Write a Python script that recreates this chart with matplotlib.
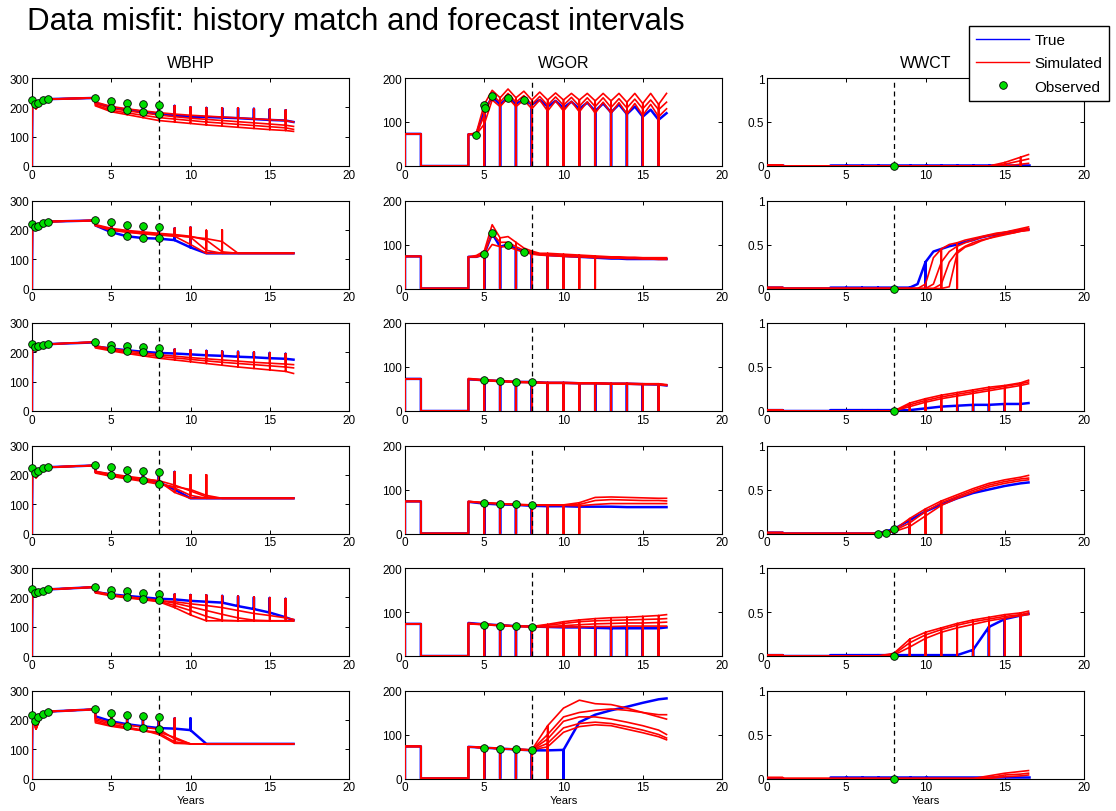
import matplotlib
matplotlib.use("Agg")
import matplotlib.pyplot as plt
from matplotlib.lines import Line2D

plt.rcParams['font.family'] = ['Liberation Sans', 'DejaVu Sans']

# ---------------- data ----------------
COLUMNS = ["WBHP", "WGOR", "WWCT"]
YLIMS = [(0, 300), (0, 200), (0, 1)]
YTICKS = [[0, 100, 200, 300], [0, 100, 200], [0, 0.5, 1]]
YTICKLABELS = [["0", "100", "200", "300"], ["0", "100", "200"], ["0", "0.5", "1"]]
HISTORY_END = 8

T_YEAR = [4, 5, 6, 7, 8, 9, 10, 11, 12, 13, 14, 15, 16, 16.5]
T_HALF = [4, 4.5, 5, 5.5, 6, 6.5, 7, 7.5, 8, 8.5, 9, 9.5, 10, 10.5, 11, 11.5,
          12, 12.5, 13, 13.5, 14, 14.5, 15, 15.5, 16, 16.5]

# shut-in years per well (row)
SHUT_TRUE = [
    [5, 6, 7, 8, 9, 10, 11, 12, 13, 14, 15, 16],
    [5, 6, 7, 8, 9, 10],
    [5, 6, 7, 8, 9, 10, 11, 12, 13, 14, 15, 16],
    [5, 6, 7, 8, 9],
    [5, 6, 7, 8, 9, 10, 11, 12, 13, 14, 15, 16],
    [5, 6, 7, 8, 9, 10],
]
SHUT_SIM = [
    [5, 6, 7, 8, 9, 10, 11, 12, 13, 14, 15, 16],
    [5, 6, 7, 8, 9, 10, 11, 12],
    [5, 6, 7, 8, 9, 10, 11, 12, 13, 14, 15, 16],
    [5, 6, 7, 8, 9, 10, 11],
    [5, 6, 7, 8, 9, 10, 11, 12, 13, 14, 15, 16],
    [5, 6, 7, 8, 9],
]

# --- WBHP ---
BHP_EARLY_T = [0, 0.02, 0.25, 0.5, 1.0, 4.0]
BHP_EARLY_TRUE = [
    [0, 225, 208, 218, 228, 232],
    [0, 220, 207, 215, 228, 232],
    [0, 230, 215, 222, 228, 234],
    [0, 222, 203, 212, 226, 232],
    [0, 228, 212, 218, 227, 235],
    [0, 218, 195, 210, 228, 236],
]
BHP_EARLY_SIM = [
    [0, 222, 195, 215, 228, 232],
    [0, 218, 203, 212, 228, 232],
    [0, 228, 205, 220, 228, 235],
    [0, 220, 190, 210, 226, 232],
    [0, 226, 205, 215, 227, 235],
    [0, 215, 168, 205, 228, 236],
]
# spike (build-up) tops at years 5..16
BHP_SPIKE_TOP = [
    [223, 215, 210, 207, 205, 200, 198, 197, 197, 195, 193, 190],
    [226, 218, 213, 210, 205, 208, 198, 200, 200, 200, 200, 200],
    [226, 220, 217, 215, 210, 207, 205, 203, 202, 200, 198, 195],
    [226, 215, 212, 210, 210, 200, 200, 200, 200, 200, 200, 200],
    [225, 220, 215, 213, 210, 208, 207, 205, 203, 200, 198, 195],
    [223, 218, 213, 208, 205, 205, 205, 205, 205, 205, 205, 205],
]
BHP_TRUE = [
    [215, 200, 192, 185, 178, 172, 168, 167, 165, 163, 160, 157, 155, 150],
    [215, 192, 178, 172, 170, 165, 140, 120, 120, 120, 120, 120, 120, 120],
    [220, 213, 207, 202, 198, 196, 193, 190, 188, 185, 183, 180, 178, 175],
    [210, 200, 190, 183, 175, 150, 120, 120, 120, 120, 120, 120, 120, 120],
    [218, 210, 205, 200, 195, 193, 188, 185, 182, 170, 160, 148, 132, 122],
    [212, 195, 185, 178, 172, 170, 165, 118, 118, 118, 118, 118, 118, 118],
]
BHP_SIM = [
    [[218, 203, 195, 188, 182, 177, 173, 170, 167, 164, 161, 158, 155, 150],
     [213, 196, 188, 181, 174, 168, 163, 159, 155, 151, 147, 143, 139, 135],
     [208, 190, 181, 173, 165, 160, 155, 150, 146, 142, 138, 134, 130, 125],
     [205, 185, 175, 165, 155, 150, 145, 140, 136, 132, 128, 124, 121, 118]],
    [[215, 200, 193, 187, 183, 178, 150, 120, 120, 120, 120, 120, 120, 120],
     [216, 202, 195, 190, 186, 181, 175, 130, 120, 120, 120, 120, 120, 120],
     [218, 205, 198, 193, 188, 184, 178, 165, 125, 120, 120, 120, 120, 120],
     [214, 198, 192, 186, 182, 180, 176, 170, 160, 120, 120, 120, 120, 120]],
    [[222, 213, 205, 198, 192, 187, 182, 178, 174, 170, 166, 163, 160, 158],
     [218, 208, 200, 193, 186, 181, 176, 171, 166, 162, 158, 154, 150, 147],
     [215, 205, 196, 188, 180, 174, 168, 162, 156, 150, 145, 140, 135, 128]],
    [[212, 203, 195, 188, 178, 140, 120, 120, 120, 120, 120, 120, 120, 120],
     [208, 198, 190, 182, 172, 155, 130, 120, 120, 120, 120, 120, 120, 120],
     [210, 200, 192, 186, 180, 165, 145, 125, 120, 120, 120, 120, 120, 120],
     [206, 195, 186, 178, 168, 160, 150, 130, 120, 120, 120, 120, 120, 120]],
    [[215, 205, 198, 192, 185, 165, 140, 120, 120, 120, 120, 120, 120, 120],
     [218, 207, 200, 194, 187, 172, 155, 135, 122, 120, 120, 120, 120, 120],
     [220, 209, 202, 196, 190, 180, 168, 155, 142, 130, 122, 120, 120, 120],
     [217, 208, 201, 195, 188, 185, 178, 172, 165, 155, 145, 138, 130, 125]],
    [[200, 185, 175, 165, 150, 120, 118, 118, 118, 118, 118, 118, 118, 118],
     [195, 180, 172, 162, 155, 125, 118, 118, 118, 118, 118, 118, 118, 118],
     [205, 190, 182, 175, 168, 135, 118, 118, 118, 118, 118, 118, 118, 118],
     [190, 178, 170, 163, 158, 140, 118, 118, 118, 118, 118, 118, 118, 118]],
]
BHP_OBS_T = [0, 0.2, 0.4, 0.7, 1.0, 4, 5, 5, 6, 6, 7, 7, 8, 8]
BHP_OBS = [
    [225, 212, 215, 224, 228, 232, 223, 198, 215, 190, 210, 185, 207, 178],
    [220, 208, 213, 222, 228, 232, 226, 191, 218, 178, 213, 172, 210, 172],
    [230, 218, 220, 225, 228, 235, 226, 212, 220, 205, 217, 202, 215, 195],
    [222, 205, 212, 222, 228, 233, 226, 200, 215, 188, 212, 183, 210, 170],
    [228, 215, 218, 223, 228, 235, 225, 208, 220, 200, 215, 196, 213, 190],
    [218, 195, 208, 220, 228, 238, 223, 192, 218, 180, 213, 173, 208, 168],
]

# --- WGOR ---
GOR_EARLY_T = [0, 0, 1, 1, 4]
GOR_EARLY = [0, 73, 73, 0, 0]
GOR_T = [T_HALF, T_HALF, T_YEAR, T_YEAR, T_YEAR, T_YEAR]
GOR_TRUE = [
    [72, 72, 125, 157, 140, 155, 142, 150, 140, 150, 135, 148, 132, 146, 130, 144,
     125, 142, 122, 140, 118, 135, 112, 128, 105, 120],
    [72, 72, 78, 125, 95, 100, 90, 84, 80, 78, 76, 75, 74, 73, 72, 71,
     70, 69, 68, 68, 67, 67, 67, 67, 67, 67],
    [72, 70, 68, 66, 66, 64, 64, 63, 63, 62, 62, 61, 60, 58],
    [72, 68, 66, 65, 63, 62, 62, 61, 61, 61, 60, 60, 60, 60],
    [75, 72, 70, 68, 67, 66, 65, 65, 64, 63, 63, 63, 63, 65],
    [72, 70, 68, 66, 64, 64, 65, 128, 145, 155, 163, 172, 180, 182],
]
GOR_SIM = [
    [[72, 75, 140, 172, 155, 175, 155, 170, 150, 168, 150, 166, 150, 165, 150, 165,
      148, 165, 148, 165, 145, 165, 142, 165, 140, 165],
     [72, 72, 115, 162, 145, 165, 145, 160, 140, 158, 138, 157, 138, 156, 136, 155,
      135, 155, 133, 153, 132, 152, 130, 150, 128, 145],
     [72, 72, 95, 150, 135, 155, 135, 150, 130, 150, 125, 148, 125, 147, 123, 146,
      120, 145, 120, 144, 118, 142, 115, 140, 112, 130]],
    [[72, 75, 85, 145, 115, 118, 105, 92, 85, 80, 80, 79, 78, 77, 76, 75,
      74, 73, 72, 72, 71, 71, 70, 70, 70, 70],
     [72, 72, 80, 125, 105, 105, 95, 87, 82, 78, 77, 76, 75, 74, 74, 73,
      72, 71, 71, 70, 70, 69, 69, 68, 68, 68],
     [72, 72, 75, 100, 95, 95, 88, 83, 78, 76, 75, 74, 73, 72, 72, 71,
      70, 70, 69, 69, 68, 68, 67, 67, 66, 66]],
    [[74, 71, 69, 67, 66, 65, 65, 64, 64, 63, 63, 62, 62, 60],
     [73, 70, 68, 66, 65, 64, 64, 63, 63, 62, 62, 61, 61, 59],
     [72, 69, 67, 65, 64, 63, 63, 62, 62, 61, 61, 60, 60, 58]],
    [[73, 70, 68, 66, 65, 65, 65, 70, 82, 83, 82, 81, 80, 80],
     [73, 70, 68, 66, 65, 65, 65, 66, 75, 77, 76, 75, 75, 74],
     [72, 69, 67, 65, 64, 64, 64, 63, 66, 68, 68, 68, 68, 68]],
    [[74, 72, 70, 68, 67, 72, 78, 82, 85, 87, 88, 90, 92, 94],
     [74, 72, 70, 68, 67, 70, 74, 78, 80, 81, 82, 83, 84, 85],
     [73, 71, 69, 67, 66, 67, 69, 71, 73, 74, 75, 75, 76, 77],
     [74, 72, 70, 68, 67, 66, 66, 66, 67, 67, 68, 68, 68, 68]],
    [[72, 70, 68, 66, 65, 120, 160, 178, 170, 168, 160, 150, 145, 145],
     [72, 70, 68, 66, 65, 100, 140, 150, 155, 158, 155, 150, 140, 135],
     [72, 70, 68, 66, 65, 90, 130, 140, 140, 135, 128, 120, 110, 100],
     [72, 70, 68, 66, 65, 80, 115, 125, 128, 125, 118, 110, 100, 92],
     [72, 70, 68, 66, 65, 72, 105, 118, 122, 120, 112, 104, 95, 88]],
]
GOR_OBS_T = [[4.5, 5, 5.05, 5.5, 6.5, 7.5], [5, 5.5, 6.5, 7.5],
             [5, 6, 7, 8], [5, 6, 7, 8], [5, 6, 7, 8], [5, 6, 7, 8]]
GOR_OBS = [[70, 138, 132, 158, 155, 150], [78, 126, 98, 84],
           [70, 68, 66, 65], [70, 67, 66, 65], [71, 69, 68, 66], [70, 67, 66, 65]]

# --- WWCT ---
WCT_EARLY_T = [0, 1, 1, 4]
WCT_EARLY = [0.01, 0.01, 0, 0]
WCT_T = [T_YEAR, T_HALF, T_YEAR, T_YEAR, T_YEAR, T_YEAR]
WCT_TRUE = [
    [0.01, 0.01, 0.01, 0.01, 0.01, 0.01, 0.01, 0.01, 0.01, 0.01, 0.01, 0.01, 0.01, 0.01],
    [0.01, 0.01, 0.01, 0.01, 0.01, 0.01, 0.01, 0.01, 0.01, 0.01, 0.01, 0.05, 0.3,
     0.42, 0.45, 0.48, 0.5, 0.53, 0.55, 0.58, 0.6, 0.61, 0.63, 0.65, 0.66, 0.67],
    [0.01, 0.01, 0.01, 0.01, 0.01, 0.01, 0.03, 0.05, 0.06, 0.07, 0.07, 0.08, 0.08, 0.09],
    [0, 0, 0, 0, 0.05, 0.15, 0.25, 0.33, 0.4, 0.46, 0.5, 0.54, 0.57, 0.58],
    [0.01, 0.01, 0.01, 0.01, 0.01, 0.01, 0.01, 0.01, 0.01, 0.07, 0.33, 0.42, 0.46, 0.48],
    [0.02, 0.02, 0.02, 0.02, 0.02, 0.02, 0.02, 0.02, 0.02, 0.02, 0.02, 0.02, 0.02, 0.02],
]
WCT_SIM = [
    [[0, 0, 0, 0, 0, 0, 0, 0, 0, 0, 0, 0.04, 0.1, 0.13],
     [0, 0, 0, 0, 0, 0, 0, 0, 0, 0, 0, 0.02, 0.06, 0.08],
     [0, 0, 0, 0, 0, 0, 0, 0, 0, 0, 0, 0, 0.02, 0.03]],
    [[0, 0, 0, 0, 0, 0, 0, 0, 0, 0, 0, 0, 0.05, 0.35, 0.45, 0.5, 0.52, 0.55, 0.57,
      0.59, 0.61, 0.63, 0.64, 0.66, 0.68, 0.7],
     [0, 0, 0, 0, 0, 0, 0, 0, 0, 0, 0, 0, 0, 0.05, 0.3, 0.42, 0.48, 0.52, 0.55,
      0.58, 0.6, 0.62, 0.64, 0.65, 0.67, 0.68],
     [0, 0, 0, 0, 0, 0, 0, 0, 0, 0, 0, 0, 0, 0, 0.05, 0.3, 0.42, 0.48, 0.52,
      0.55, 0.57, 0.6, 0.62, 0.63, 0.65, 0.66],
     [0, 0, 0, 0, 0, 0, 0, 0, 0, 0, 0, 0, 0, 0, 0, 0.02, 0.4, 0.47, 0.5,
      0.54, 0.57, 0.59, 0.61, 0.63, 0.65, 0.67]],
    [[0, 0, 0, 0, 0, 0.09, 0.14, 0.18, 0.21, 0.24, 0.27, 0.29, 0.32, 0.35],
     [0, 0, 0, 0, 0, 0.07, 0.12, 0.16, 0.19, 0.22, 0.25, 0.28, 0.31, 0.33],
     [0, 0, 0, 0, 0, 0.05, 0.10, 0.14, 0.17, 0.20, 0.23, 0.26, 0.29, 0.31]],
    [[0, 0, 0, 0, 0.04, 0.17, 0.28, 0.37, 0.44, 0.51, 0.57, 0.61, 0.64, 0.66],
     [0, 0, 0, 0, 0.03, 0.12, 0.25, 0.35, 0.42, 0.49, 0.55, 0.59, 0.62, 0.63],
     [0, 0, 0, 0, 0.02, 0.08, 0.20, 0.32, 0.40, 0.47, 0.53, 0.57, 0.60, 0.61]],
    [[0, 0, 0, 0, 0.03, 0.19, 0.27, 0.32, 0.37, 0.41, 0.44, 0.47, 0.49, 0.51],
     [0, 0, 0, 0, 0.02, 0.15, 0.24, 0.30, 0.35, 0.39, 0.42, 0.45, 0.47, 0.49],
     [0, 0, 0, 0, 0.01, 0.10, 0.20, 0.27, 0.32, 0.36, 0.40, 0.43, 0.46, 0.47]],
    [[0, 0, 0, 0, 0, 0, 0, 0, 0, 0, 0.03, 0.06, 0.08, 0.09],
     [0, 0, 0, 0, 0, 0, 0, 0, 0, 0, 0.01, 0.04, 0.05, 0.06],
     [0, 0, 0, 0, 0, 0, 0, 0, 0, 0, 0, 0.02, 0.03, 0.04]],
]
WCT_OBS_T = [[8], [8], [8], [7, 7.5, 8], [8], [8]]
WCT_OBS = [[0], [0], [0], [0, 0.01, 0.05], [0], [0]]

# ---------------- layout (pixels of the 1116x812 figure) ----------------
W, H = 1116, 812
COL_LEFT = [32, 405, 767]
ROW_TOP = [79, 201.5, 324, 446.5, 569, 691.5]
AX_W, AX_H = 317, 88

BLUE, RED, GREEN = "#0000ff", "#ff0000", "#00dd00"


def shut_path(t, v, years, tops=None):
    # insert a vertical excursion at every shut-in year: a drop to zero
    # (rates) or a build-up spike (pressure)
    xs, ys = [], []
    for ti, vi in zip(t, v):
        xs.append(ti)
        ys.append(vi)
        if ti in years:
            xs += [ti, ti]
            ys += [0 if tops is None else tops[int(ti) - 5], vi]
    return xs, ys


def draw_panel(ax, t, true, sims, shut_t, shut_s, tops, obs_t, obs_v):
    xs, ys = shut_path(t, true, shut_t, tops)
    ax.plot(xs, ys, color=BLUE, lw=1.8, zorder=2)
    for m in sims:
        xs, ys = shut_path(t, m, shut_s, tops)
        ax.plot(xs, ys, color=RED, lw=1.2, zorder=3)
    ax.axvline(HISTORY_END, color="k", lw=0.9, ls=(0, (4, 3)), zorder=4)
    ax.plot(obs_t, obs_v, "o", ms=5.5, mfc=GREEN, mec="k", mew=0.6,
            zorder=5, clip_on=False)


fig = plt.figure(figsize=(W / 100, H / 100), dpi=100)

for r in range(6):
    for c in range(3):
        ax = fig.add_axes([COL_LEFT[c] / W, 1 - (ROW_TOP[r] + AX_H) / H,
                           AX_W / W, AX_H / H])
        if c == 0:
            t = BHP_EARLY_T + T_YEAR
            true = BHP_EARLY_TRUE[r] + BHP_TRUE[r]
            sims = [BHP_EARLY_SIM[r] + m for m in BHP_SIM[r]]
            draw_panel(ax, t, true, sims, SHUT_TRUE[r], SHUT_SIM[r],
                       BHP_SPIKE_TOP[r], BHP_OBS_T, BHP_OBS[r])
        elif c == 1:
            t = GOR_EARLY_T + GOR_T[r]
            true = GOR_EARLY + GOR_TRUE[r]
            sims = [GOR_EARLY + m for m in GOR_SIM[r]]
            draw_panel(ax, t, true, sims, SHUT_TRUE[r], SHUT_SIM[r],
                       None, GOR_OBS_T[r], GOR_OBS[r])
        else:
            t = WCT_EARLY_T + WCT_T[r]
            true = WCT_EARLY + WCT_TRUE[r]
            sims = [WCT_EARLY + m for m in WCT_SIM[r]]
            draw_panel(ax, t, true, sims, SHUT_TRUE[r], SHUT_SIM[r],
                       None, WCT_OBS_T[r], WCT_OBS[r])

        ax.set_xlim(0, 20)
        ax.set_ylim(*YLIMS[c])
        ax.set_xticks([0, 5, 10, 15, 20])
        ax.set_yticks(YTICKS[c])
        ax.set_yticklabels(YTICKLABELS[c])
        ax.tick_params(direction="in", length=3, width=0.7, labelsize=8.5,
                       top=True, right=True, pad=2)
        for s in ax.spines.values():
            s.set_linewidth(0.8)
        if r == 0:
            ax.set_title(COLUMNS[c], fontsize=11.5, pad=8)
        if r == 5:
            ax.set_xlabel("Years", fontsize=8, labelpad=1)

fig.text(27 / W, 1 - 22 / H, "Data misfit: history match and forecast intervals",
         fontsize=22.5, ha="left", va="center")

handles = [
    Line2D([], [], color=BLUE, lw=1.0),
    Line2D([], [], color=RED, lw=1.0),
    Line2D([], [], ls="none", marker="o", ms=5.5, mfc=GREEN, mec="k", mew=0.6),
]
fig.legend(handles, ["True", "Simulated", "Observed"], loc="upper left",
           bbox_to_anchor=(969 / W, 1 - 27 / H), borderaxespad=0,
           fontsize=11, frameon=True, fancybox=False, edgecolor="k",
           framealpha=1, handlelength=3.5, handletextpad=0.35,
           labelspacing=0.62, borderpad=0.45)

fig.savefig("out.png", dpi=100)
